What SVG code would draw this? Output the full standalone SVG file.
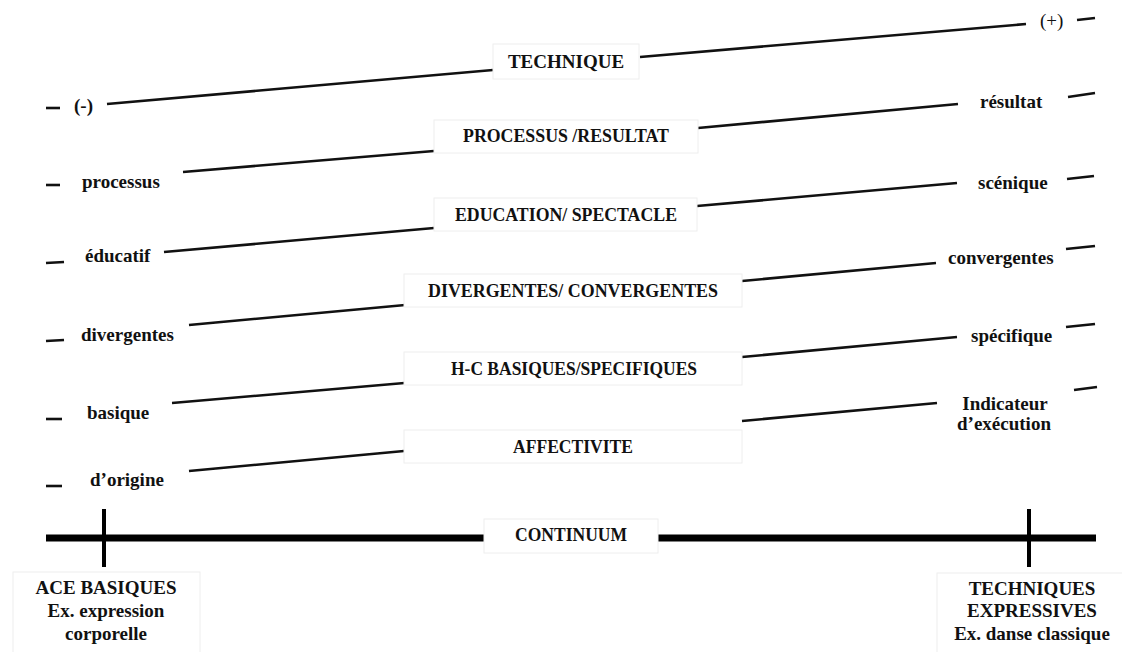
<svg xmlns="http://www.w3.org/2000/svg" width="1122" height="652" viewBox="0 0 1122 652">
<style>
text{font-family:"Liberation Serif","Times New Roman",serif;font-weight:bold;font-size:19px;fill:#111}
.c{text-anchor:middle}
.box{fill:#fff;stroke:#eeeeee;stroke-width:1}
.ln{stroke:#111;stroke-width:2.6;fill:none}
.dash{stroke:#111;stroke-width:2.6}
.thick{stroke:#000;stroke-width:7}
.tick{stroke:#000;stroke-width:4}
</style>
<rect width="1122" height="652" fill="#fff"/>
<g id="connectors">
<line class="ln" x1="107" y1="104" x2="493" y2="70"/>
<line class="ln" x1="640" y1="57" x2="1026" y2="24"/>
<line class="ln" x1="183" y1="172" x2="434" y2="151"/>
<line class="ln" x1="698" y1="128" x2="958" y2="104"/>
<line class="ln" x1="164" y1="252" x2="434" y2="228"/>
<line class="ln" x1="697" y1="206" x2="957" y2="183"/>
<line class="ln" x1="189" y1="325" x2="416" y2="304"/>
<line class="ln" x1="742" y1="281" x2="936" y2="263"/>
<line class="ln" x1="172" y1="403" x2="416" y2="382"/>
<line class="ln" x1="742" y1="357" x2="957" y2="337"/>
<line class="ln" x1="189" y1="471" x2="404" y2="451"/>
<line class="ln" x1="742" y1="421" x2="937" y2="403"/>
</g>
<g id="dashes">
<line class="dash" x1="46" y1="108" x2="60" y2="108"/>
<line class="dash" x1="46" y1="185" x2="60" y2="185"/>
<line class="dash" x1="46" y1="263" x2="64" y2="262"/>
<line class="dash" x1="46" y1="341" x2="64" y2="340"/>
<line class="dash" x1="46" y1="419" x2="62" y2="419"/>
<line class="dash" x1="46" y1="486" x2="62" y2="486"/>
<line class="dash" x1="1077" y1="20" x2="1095" y2="18"/>
<line class="dash" x1="1068" y1="97" x2="1095" y2="93"/>
<line class="dash" x1="1067" y1="179" x2="1094" y2="176"/>
<line class="dash" x1="1066" y1="249" x2="1095" y2="246"/>
<line class="dash" x1="1066" y1="327" x2="1095" y2="324"/>
<line class="dash" x1="1074" y1="390" x2="1097" y2="387"/>
</g>
<g id="n-technique"><rect class="box" x="493" y="44" width="146" height="35"/><text class="c" x="566" y="68">TECHNIQUE</text></g>
<g id="n-processus"><rect class="box" x="434" y="120" width="264" height="33"/><text class="c" x="566" y="142" textLength="206" lengthAdjust="spacingAndGlyphs">PROCESSUS /RESULTAT</text></g>
<g id="n-education"><rect class="box" x="434" y="198" width="263" height="33"/><text class="c" x="566" y="221" textLength="222" lengthAdjust="spacingAndGlyphs">EDUCATION/ SPECTACLE</text></g>
<g id="n-divergentes"><rect class="box" x="404" y="274" width="338" height="33"/><text class="c" x="573" y="297" textLength="290" lengthAdjust="spacingAndGlyphs">DIVERGENTES/ CONVERGENTES</text></g>
<g id="n-hc"><rect class="box" x="404" y="352" width="338" height="33"/><text class="c" x="574" y="375" textLength="246" lengthAdjust="spacingAndGlyphs">H-C BASIQUES/SPECIFIQUES</text></g>
<g id="n-affectivite"><rect class="box" x="404" y="430" width="338" height="33"/><text class="c" x="573" y="453" textLength="120" lengthAdjust="spacingAndGlyphs">AFFECTIVITE</text></g>
<g id="left-labels">
<text x="74" y="112">(-)</text>
<text x="82" y="188">processus</text>
<text x="85" y="262">éducatif</text>
<text x="81" y="341">divergentes</text>
<text x="87" y="419">basique</text>
<text x="90" y="486">d’origine</text>
</g>
<g id="right-labels">
<text x="1040" y="27" style="font-weight:normal">(+)</text>
<text x="980" y="108">résultat</text>
<text x="978" y="189">scénique</text>
<text x="948" y="264">convergentes</text>
<text x="971" y="342">spécifique</text>
<text class="c" x="1005" y="410">Indicateur</text>
<text class="c" x="1004" y="430">d’exécution</text>
</g>
<g id="continuum">
<line class="thick" x1="46" y1="538" x2="484" y2="538"/>
<line class="thick" x1="658" y1="538" x2="1096" y2="538"/>
<line class="tick" x1="104" y1="509" x2="104" y2="567"/>
<line class="tick" x1="1029" y1="509" x2="1029" y2="567"/>
</g>
<g id="n-continuum"><rect class="box" x="484" y="519" width="174" height="34"/><text class="c" x="571" y="541" textLength="112" lengthAdjust="spacingAndGlyphs">CONTINUUM</text></g>
<g id="n-ace"><rect class="box" x="13" y="572" width="187" height="86"/>
<text class="c" x="106" y="594">ACE BASIQUES</text>
<text class="c" x="106" y="617">Ex. expression</text>
<text class="c" x="106" y="640">corporelle</text></g>
<g id="n-tech"><rect class="box" x="937" y="573" width="190" height="85"/>
<text class="c" x="1032" y="595">TECHNIQUES</text>
<text class="c" x="1032" y="617">EXPRESSIVES</text>
<text class="c" x="1032" y="640">Ex. danse classique</text></g>
</svg>
